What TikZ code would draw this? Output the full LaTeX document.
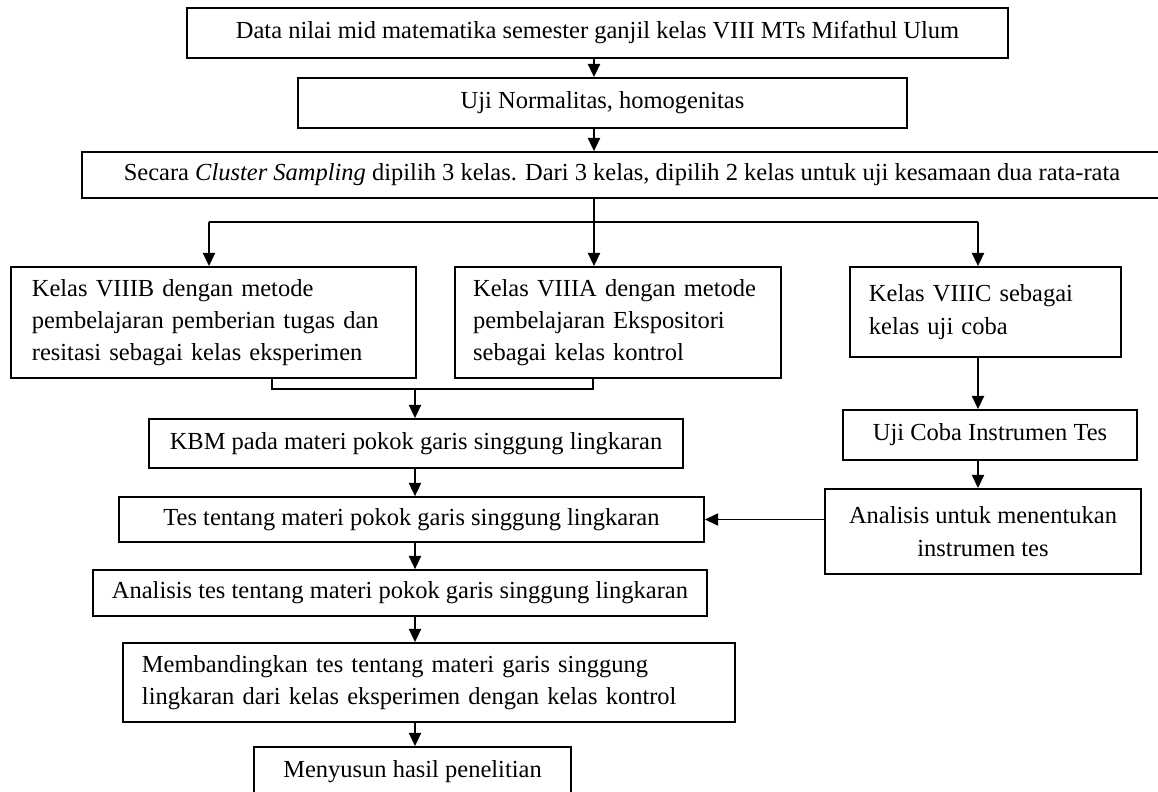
\documentclass[tikz,border=0pt]{standalone}
\usepackage{fontspec}
\setmainfont{Liberation Serif}
\usetikzlibrary{arrows.meta}

\begin{document}
\begin{tikzpicture}[x=0.49pt, y=-0.49pt,
    kotak/.style={draw=black, line width=0.9pt, inner sep=0pt, font=\fontsize{12}{15.8}\selectfont},
    panah/.style={-{Triangle[length=6.5pt,width=6pt]}, line width=0.8pt},
    garis/.style={line width=0.8pt}]
    \useasboundingbox (0,0) rectangle (1158,791);

    \node[kotak, anchor=west, inner xsep=24pt, minimum height=24.5pt] (data) at (186,33) {Data nilai mid matematika semester ganjil kelas VIII MTs Mifathul Ulum};
    \node[kotak, minimum width=298.4pt, minimum height=24.5pt] (uji) at (602.5,103) {Uji Normalitas, homogenitas};
    \node[kotak, minimum width=529.2pt, minimum height=22.5pt] (sampel) at (622,175) {Secara \textit{Cluster Sampling} dipilih 3 kelas. Dari 3 kelas, dipilih 2 kelas untuk uji kesamaan dua rata-rata};

    \node[kotak, minimum width=198.5pt, minimum height=54.4pt, text width=178pt, align=left] (kelasB) at (213.5,322.5) {Kelas VIIIB dengan metode\\ pembelajaran pemberian tugas dan\\ resitasi sebagai kelas eksperimen};
    \node[kotak, minimum width=159.7pt, minimum height=54.4pt, text width=142pt, align=left] (kelasA) at (618,322.5) {Kelas VIIIA dengan metode\\ pembelajaran Ekspositori\\ sebagai kelas kontrol};
    \node[kotak, minimum width=132.8pt, minimum height=44.1pt, text width=114.2pt, align=left] (kelasC) at (985.5,312) {Kelas VIIIC sebagai\\ kelas uji coba};

    \node[kotak, minimum width=261.7pt, minimum height=24pt] (kbm) at (416,443.5) {KBM pada materi pokok garis singgung lingkaran};
    \node[kotak, minimum width=144.1pt, minimum height=24.5pt] (ujicoba) at (990,435) {Uji Coba Instrumen Tes};
    \node[kotak, minimum width=154.8pt, minimum height=41.7pt, align=center] (analisisuji) at (983,531.5) {Analisis untuk menentukan\\ instrumen tes};
    \node[kotak, minimum width=286.7pt, minimum height=22pt] (tes) at (411.5,519.5) {Tes tentang materi pokok garis singgung lingkaran};
    \node[kotak, anchor=west, inner xsep=9.3pt, minimum height=22.5pt] (analisis) at (92,593) {Analisis tes tentang materi pokok garis singgung lingkaran};
    \node[kotak, minimum width=299.9pt, minimum height=38.7pt, text width=281.3pt, align=left] (banding) at (429,682.5) {Membandingkan tes tentang materi garis singgung\\ lingkaran dari kelas eksperimen dengan kelas kontrol};
    \node[kotak, minimum width=155.3pt, minimum height=24.5pt] (hasil) at (412.5,772) {Menyusun hasil penelitian};

    \coordinate (tengah) at (594,0);
    \coordinate (cabangkiri) at (209,222);
    \coordinate (cabangkanan) at (978,222);
    \coordinate (kiriB) at (272,389);
    \coordinate (kananA) at (593,389);
    \coordinate (gabung) at (415,389);

    \draw[panah] (data.south -| tengah) -- (uji.north -| tengah);
    \draw[panah] (uji.south -| tengah) -- (sampel.north -| tengah);
    \draw[panah] (sampel.south -| tengah) -- (kelasA.north -| tengah);
    \draw[garis] (cabangkiri) -- (cabangkanan);
    \draw[panah] (cabangkiri) -- (kelasB.north -| cabangkiri);
    \draw[panah] (cabangkanan) -- (kelasC.north -| cabangkanan);

    \draw[garis] (kelasB.south -| kiriB) -- (kiriB) -- (kananA) -- (kelasA.south -| kananA);
    \draw[panah] (gabung) -- (kbm.north -| gabung);
    \draw[panah] (kbm.south -| gabung) -- (tes.north -| gabung);

    \draw[panah] (kelasC.south -| cabangkanan) -- (ujicoba.north -| cabangkanan);
    \draw[panah] (ujicoba.south -| cabangkanan) -- (analisisuji.north -| cabangkanan);
    \draw[panah] (analisisuji.west |- tes.east) -- (tes.east);

    \draw[panah] (tes.south -| gabung) -- (analisis.north -| gabung);
    \draw[panah] (analisis.south -| gabung) -- (banding.north -| gabung);
    \draw[panah] (banding.south -| gabung) -- (hasil.north -| gabung);
\end{tikzpicture}
\end{document}
